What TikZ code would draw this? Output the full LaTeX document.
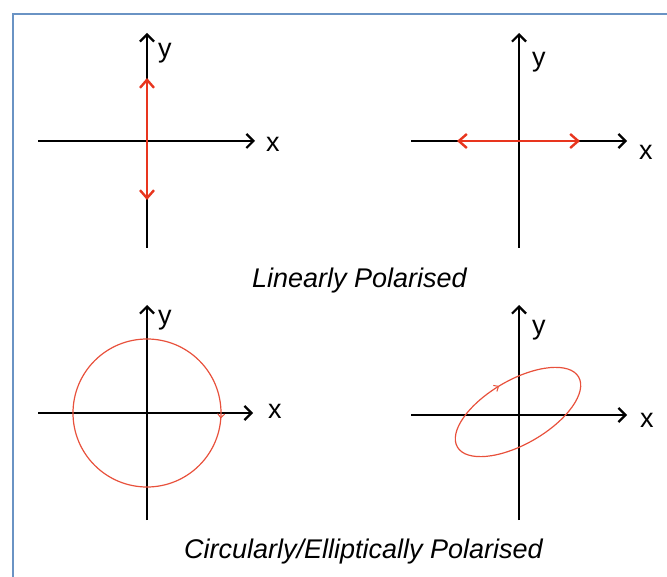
\documentclass[tikz,border=0pt]{standalone}
\usepackage{fontspec}
\setmainfont{Liberation Sans}
\usetikzlibrary{arrows.meta, decorations.markings, positioning}
\definecolor{frameBlue}{HTML}{6A93C4}
\definecolor{polRed}{HTML}{E8351E}
\definecolor{curveRed}{HTML}{E8513C}
\tikzset{
  axisline/.style  = {-{Straight Barb[length=7pt, width=14pt, line width=2.2pt]},
                      line width=1.2pt, black},
  polarrow/.style  = {{Straight Barb[length=8pt, width=14pt, line width=2.4pt]}-{Straight Barb[length=8pt, width=14pt, line width=2.4pt]},
                      line width=2pt, polRed},
  polcurve/.style  = {curveRed, line width=1.2pt},
  curvehead/.style = {decoration={markings,
                       mark=at position #1 with {\arrow{Straight Barb[length=4pt, width=7pt, line width=1pt]}}},
                      postaction={decorate}},
  axlbl/.style     = {anchor=base west, inner sep=0pt, font=\fontsize{27}{30}\selectfont},
  titlelbl/.style  = {anchor=base, inner sep=0pt, font=\fontsize{27}{30}\selectfont\itshape},
}
\begin{document}
\begin{tikzpicture}[x=1pt,y=-1pt]
  \useasboundingbox (0,0) rectangle (667,577);
  % slide frame
  \draw[frameBlue, line width=1.8pt] (13,600) -- (13,14) -- (690,14);

  % linear, vertical
  \begin{scope}[shift={(147,141)}]
    \coordinate (oA) at (0,0);
    \draw[axisline] (-109,0) -- (108,0);
    \draw[axisline] (0,107) -- (0,-108);
    \draw[polarrow] (0,59) -- (0,-63);
    \node[axlbl] (yA) at (11,-83) {y};
    \node[axlbl] (xA) at (119,11) {x};
  \end{scope}

  % linear, horizontal
  \begin{scope}[shift={(519,141)}]
    \coordinate (oB) at (0,0);
    \draw[axisline] (-108,0) -- (108,0);
    \draw[axisline] (0,107) -- (0,-108);
    \draw[polarrow] (-62,0) -- (61,0);
    \node[axlbl] (yB) at (13,-74) {y};
    \node[axlbl] (xB) at (120,19) {x};
  \end{scope}

  % circular
  \begin{scope}[shift={(147,413)}]
    \coordinate (oC) at (0,0);
    \draw[axisline] (-109,0) -- (106,0);
    \draw[axisline] (0,107) -- (0,-108);
    \draw[polcurve, curvehead=0.012] (0,0) ++(74,0) arc[start angle=0, end angle=360, radius=74];
    \node[axlbl] (yC) at (11,-88) {y};
    \node[axlbl] (xC) at (121,5) {x};
  \end{scope}

  % elliptical
  \begin{scope}[shift={(519,415)}]
    \coordinate (oD) at (0,0);
    \draw[axisline] (-108,0) -- (108,0);
    \draw[axisline] (0,105) -- (0,-110);
    \draw[polcurve, curvehead=0.74, rotate around={30:(-1,-3)}]
      (-1,-3) ++(70,0) arc[start angle=0, end angle=360, x radius=70, y radius=32];
    \node[axlbl] (yD) at (13,-80) {y};
    \node[axlbl] (xD) at (121,12) {x};
  \end{scope}

  \node[titlelbl] (linCap) at (359.5,288) {Linearly Polarised};
  \node[titlelbl] (ellCap) at (363.5,558) {Circularly/Elliptically Polarised};
\end{tikzpicture}
\end{document}
